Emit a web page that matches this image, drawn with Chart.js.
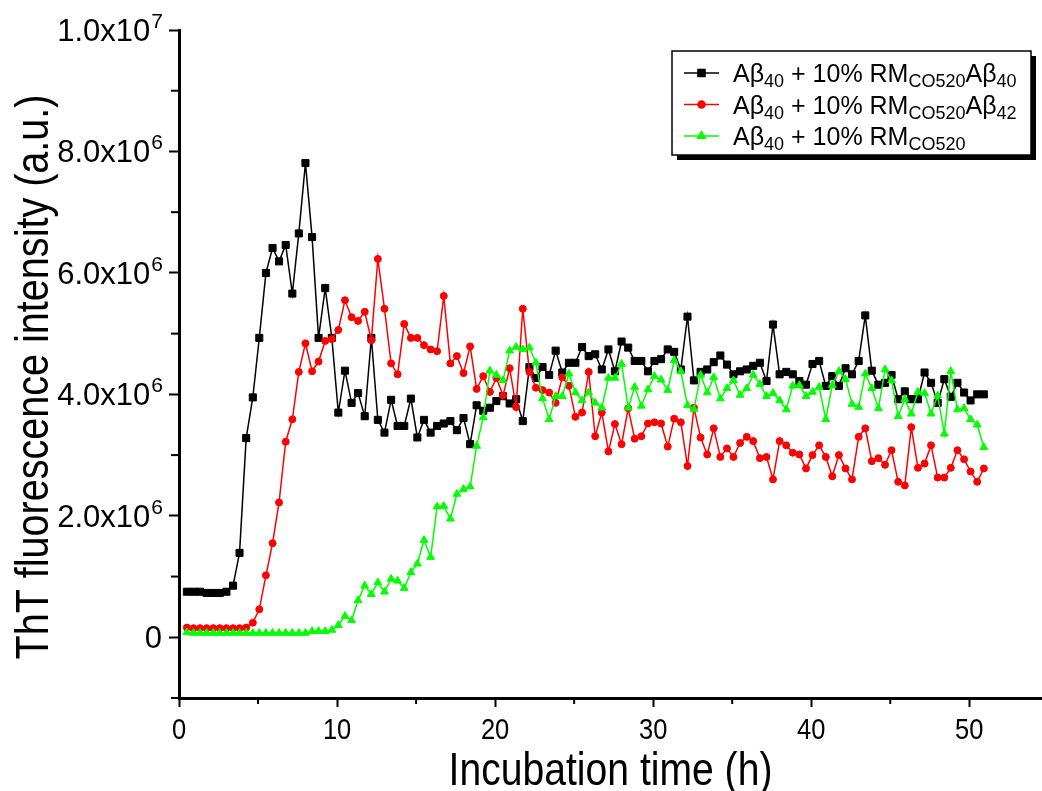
<!DOCTYPE html>
<html>
<head>
<meta charset="utf-8">
<script src="https://cdn.jsdelivr.net/npm/chart.js@4.4.0/dist/chart.umd.min.js"></script>
<style>
    html, body { margin: 0; padding: 0; background: #fff; overflow: hidden; }
</style>
</head>
<body>
<canvas id="myChart" width="1042" height="791"></canvas>
<script>
// incubation time (h), one reading every 25 min
const times = [
    0.50, 0.92, 1.33, 1.75, 2.17, 2.58, 3.00, 3.42, 3.83, 4.25,
    4.67, 5.08, 5.50, 5.92, 6.33, 6.75, 7.17, 7.58, 8.00, 8.42,
    8.83, 9.25, 9.67, 10.08, 10.50, 10.92, 11.33, 11.75, 12.17, 12.58,
    13.00, 13.42, 13.83, 14.25, 14.67, 15.08, 15.50, 15.92, 16.33, 16.75,
    17.17, 17.58, 18.00, 18.42, 18.83, 19.25, 19.67, 20.08, 20.50, 20.92,
    21.33, 21.75, 22.17, 22.58, 23.00, 23.42, 23.83, 24.25, 24.67, 25.08,
    25.50, 25.92, 26.33, 26.75, 27.17, 27.58, 28.00, 28.42, 28.83, 29.25,
    29.67, 30.08, 30.50, 30.92, 31.33, 31.75, 32.17, 32.58, 33.00, 33.42,
    33.83, 34.25, 34.67, 35.08, 35.50, 35.92, 36.33, 36.75, 37.17, 37.58,
    38.00, 38.42, 38.83, 39.25, 39.67, 40.08, 40.50, 40.92, 41.33, 41.75,
    42.17, 42.58, 43.00, 43.42, 43.83, 44.25, 44.67, 45.08, 45.50, 45.92,
    46.33, 46.75, 47.17, 47.58, 48.00, 48.42, 48.83, 49.25, 49.67, 50.08,
    50.50, 50.92
]

// ThT fluorescence, in units of 10^6 a.u.
const blackVals = [
    0.75, 0.75, 0.75, 0.73, 0.73, 0.73, 0.75, 0.85, 1.39, 3.28,
    3.95, 4.93, 6.00, 6.41, 6.19, 6.46, 5.66, 6.65, 7.81, 6.59,
    4.93, 5.75, 4.93, 3.70, 4.39, 3.86, 4.02, 3.64, 4.93, 3.58,
    3.37, 3.91, 3.48, 3.48, 3.93, 3.29, 3.58, 3.37, 3.48, 3.52,
    3.56, 3.41, 3.61, 3.18, 3.82, 3.73, 3.78, 3.89, 3.97, 3.85,
    3.92, 3.56, 4.45, 4.27, 4.45, 4.32, 4.72, 4.36, 4.52, 4.52,
    4.78, 4.63, 4.66, 4.41, 4.74, 4.38, 4.87, 4.77, 4.55, 4.55,
    4.38, 4.55, 4.58, 4.74, 4.70, 4.41, 5.28, 4.23, 4.37, 4.41,
    4.53, 4.64, 4.49, 4.33, 4.38, 4.41, 4.47, 4.52, 4.22, 5.15,
    4.33, 4.37, 4.33, 4.22, 4.16, 4.50, 4.55, 4.14, 4.30, 4.14,
    4.43, 4.33, 4.55, 5.30, 4.39, 4.16, 4.19, 4.32, 3.92, 4.05,
    3.92, 3.92, 4.36, 4.19, 3.86, 4.25, 3.96, 4.19, 4.03, 3.90,
    4.00, 4.00
]

const redVals = [
    0.16, 0.15, 0.15, 0.15, 0.15, 0.15, 0.15, 0.15, 0.15, 0.16,
    0.24, 0.46, 1.02, 1.55, 2.22, 3.22, 3.59, 4.37, 4.84, 4.38,
    4.54, 4.88, 4.91, 5.06, 5.55, 5.27, 5.21, 5.36, 4.89, 6.23,
    5.41, 4.51, 4.33, 5.16, 4.93, 4.93, 4.81, 4.74, 4.71, 5.62,
    4.51, 4.63, 4.35, 4.79, 4.09, 4.30, 4.04, 4.27, 3.98, 4.43,
    3.79, 5.41, 4.37, 4.11, 4.07, 4.03, 3.86, 4.28, 4.14, 3.63,
    3.70, 4.37, 3.31, 3.70, 3.06, 3.51, 3.18, 3.77, 3.27, 3.31,
    3.52, 3.54, 3.52, 3.14, 3.60, 3.54, 2.82, 3.78, 3.29, 3.01,
    3.44, 2.97, 3.11, 2.97, 3.20, 3.30, 3.23, 2.95, 2.97, 2.60,
    3.23, 3.16, 3.04, 3.01, 2.78, 3.00, 3.16, 2.97, 2.65, 3.00,
    2.78, 2.60, 3.30, 3.44, 2.90, 2.95, 2.84, 3.08, 2.56, 2.50,
    3.46, 2.79, 2.86, 3.16, 2.63, 2.63, 2.79, 3.08, 2.93, 2.73,
    2.56, 2.78
]

const greenVals = [
    0.08, 0.07, 0.07, 0.07, 0.07, 0.07, 0.07, 0.07, 0.07, 0.07,
    0.07, 0.07, 0.07, 0.07, 0.07, 0.07, 0.07, 0.07, 0.07, 0.10,
    0.10, 0.10, 0.12, 0.20, 0.35, 0.28, 0.61, 0.85, 0.71, 0.90,
    0.75, 0.96, 0.93, 0.81, 1.07, 1.21, 1.60, 1.32, 2.15, 2.16,
    1.95, 2.36, 2.44, 2.48, 3.15, 3.62, 4.39, 4.32, 4.23, 4.72,
    4.78, 4.74, 4.77, 4.52, 3.93, 3.59, 3.97, 3.97, 4.34, 4.03,
    3.90, 4.03, 3.86, 3.78, 4.27, 4.27, 4.50, 3.78, 4.12, 3.81,
    4.08, 4.30, 4.24, 4.07, 4.56, 4.38, 3.82, 3.75, 4.32, 4.03,
    4.28, 3.93, 4.10, 4.23, 3.99, 4.10, 4.32, 4.17, 3.97, 4.02,
    3.90, 3.75, 4.14, 4.15, 3.97, 4.04, 4.12, 3.59, 4.15, 4.38,
    4.25, 3.84, 3.79, 4.34, 4.10, 3.77, 4.41, 4.23, 3.64, 3.92,
    3.68, 4.04, 4.02, 3.68, 3.98, 3.35, 4.38, 3.75, 3.77, 3.59,
    3.50, 3.13
]

// y tick labels: [mantissa x 10, exponent]
const yTickValues = [0, 2, 4, 6, 8, 10]
const yTickText = [['0', ''], ['2.0x10', '6'], ['4.0x10', '6'], ['6.0x10', '6'], ['8.0x10', '6'], ['1.0x10', '7']]
const xMinorTicks = [5, 15, 25, 35, 45]
const yMinorTicks = [-1, 1, 3, 5, 7, 9]

const xTitle = 'Incubation time (h)'
const yTitle = 'ThT fluorescence intensity (a.u.)'

// legend text, [text, isSubscript]
const seriesNames = [
    [['Aβ', 0], ['40', 1], [' + 10% RM', 0], ['CO520', 1], ['Aβ', 0], ['40', 1]],
    [['Aβ', 0], ['40', 1], [' + 10% RM', 0], ['CO520', 1], ['Aβ', 0], ['42', 1]],
    [['Aβ', 0], ['40', 1], [' + 10% RM', 0], ['CO520', 1]]
]

const ARIAL = "'Liberation Sans', Arial, sans-serif"

const toPoints = (vals) => vals.map((v, i) => ({ x: times[i], y: v }))

const minorTicks = {
    id: 'minorTicks',
    afterDraw(chart) {
        const { ctx, scales: { x, y } } = chart
        ctx.save()
        ctx.strokeStyle = '#000'
        ctx.lineWidth = 2
        xMinorTicks.forEach(v => {
            const px = x.getPixelForValue(v)
            ctx.beginPath()
            ctx.moveTo(px, x.top)
            ctx.lineTo(px, x.top + 6)
            ctx.stroke()
        })
        yMinorTicks.forEach(v => {
            const py = y.getPixelForValue(v)
            ctx.beginPath()
            ctx.moveTo(y.right, py)
            ctx.lineTo(y.right - 8, py)
            ctx.stroke()
        })
        ctx.restore()
    }
}

// tick labels and titles in a narrow face (Arial squeezed), exponents raised
const axisText = {
    id: 'axisText',
    afterDraw(chart) {
        const { ctx, scales: { x, y } } = chart
        ctx.save()
        ctx.fillStyle = '#000'
        ctx.textBaseline = 'alphabetic'

        ctx.font = `30px ${ARIAL}`
        ctx.textAlign = 'center'
        x.ticks.forEach(t => {
            const px = x.getPixelForValue(t.value)
            ctx.save()
            ctx.translate(px, 739)
            ctx.scale(0.85, 1)
            ctx.fillText(String(t.value), 0, 0)
            ctx.restore()
        })

        ctx.textAlign = 'left'
        y.ticks.forEach(t => {
            const k = yTickValues.indexOf(t.value)
            if (k < 0) return
            const [base, sup] = yTickText[k]
            const py = y.getPixelForValue(t.value)
            ctx.font = `31px ${ARIAL}`
            const wb = ctx.measureText(base).width
            ctx.font = `21px ${ARIAL}`
            const ws = sup ? ctx.measureText(sup).width : 0
            const start = 162 - wb - ws
            ctx.font = `31px ${ARIAL}`
            ctx.fillText(base, start, py + 11)
            if (sup) {
                ctx.font = `21px ${ARIAL}`
                ctx.fillText(sup, start + wb + 1, py - 2)
            }
        })

        ctx.font = `46px ${ARIAL}`
        ctx.textAlign = 'center'
        ctx.save()
        ctx.translate((x.left + x.right) / 2, 785)
        ctx.scale(0.85, 1)
        ctx.fillText(xTitle, 0, 0)
        ctx.restore()

        ctx.save()
        ctx.translate(48, 377)
        ctx.rotate(-Math.PI / 2)
        ctx.scale(0.86, 1)
        ctx.fillText(yTitle, 0, 0)
        ctx.restore()

        ctx.restore()
    }
}

const boxLegend = {
    id: 'boxLegend',
    afterDraw(chart) {
        const ctx = chart.ctx
        const box = { left: 672, top: 51, right: 1031, bottom: 155 }
        ctx.save()
        // drop shadow
        ctx.fillStyle = '#000'
        ctx.fillRect(box.left + 5, box.top + 5, box.right - box.left, box.bottom - box.top)
        ctx.fillStyle = '#fff'
        ctx.fillRect(box.left, box.top, box.right - box.left, box.bottom - box.top)
        ctx.strokeStyle = '#000'
        ctx.lineWidth = 1.5
        ctx.strokeRect(box.left, box.top, box.right - box.left, box.bottom - box.top)

        const rowsY = [73, 104.5, 136]
        chart.data.datasets.forEach((ds, i) => {
            const cy = rowsY[i]
            ctx.strokeStyle = ds.borderColor
            ctx.lineWidth = 1.5
            ctx.beginPath()
            ctx.moveTo(684, cy)
            ctx.lineTo(719, cy)
            ctx.stroke()
            ctx.fillStyle = ds.backgroundColor
            Chart.helpers.drawPoint(ctx, {
                pointStyle: ds.pointStyle,
                radius: ds.pointRadius,
                borderWidth: 1,
                rotation: 0
            }, 701.5, cy)
            ctx.fill()

            let tx = 733
            ctx.fillStyle = '#000'
            ctx.textAlign = 'left'
            ctx.textBaseline = 'alphabetic'
            seriesNames[i].forEach(([txt, sub]) => {
                ctx.font = sub ? `18px ${ARIAL}` : `25px ${ARIAL}`
                ctx.fillText(txt, tx, cy + 9 + (sub ? 5 : 0))
                tx += ctx.measureText(txt).width
            })
        })
        ctx.restore()
    }
}

const ctx = document.getElementById('myChart').getContext('2d')

const myChart = new Chart(ctx, {
    type: 'line',
    data: {
        datasets: [
            {
                label: 'Aβ40 + 10% RMCO520Aβ40',
                data: toPoints(blackVals),
                borderColor: '#000000',
                backgroundColor: '#000000',
                borderWidth: 1.5,
                pointStyle: 'rect',
                pointRadius: 5,
                pointBorderWidth: 1,
                order: 3
            },
            {
                label: 'Aβ40 + 10% RMCO520Aβ42',
                data: toPoints(redVals),
                borderColor: '#ff0000',
                backgroundColor: '#ff0000',
                borderWidth: 1.5,
                pointStyle: 'circle',
                pointRadius: 3.5,
                pointBorderWidth: 1,
                order: 2
            },
            {
                label: 'Aβ40 + 10% RMCO520',
                data: toPoints(greenVals),
                borderColor: '#00ff00',
                backgroundColor: '#00ff00',
                borderWidth: 1.5,
                pointStyle: 'triangle',
                pointRadius: 4.5,
                pointBorderWidth: 1,
                order: 1
            }
        ]
    },
    options: {
        responsive: false,
        animation: false,
        layout: {
            autoPadding: false,
            padding: { top: 30, right: 0, left: 0, bottom: 0 }
        },
        plugins: {
            legend: { display: false },
            tooltip: { enabled: false }
        },
        scales: {
            x: {
                type: 'linear',
                min: 0,
                max: 54.6,
                afterFit: (scale) => { scale.height = 93 },
                border: { display: true, color: '#000', width: 3 },
                grid: {
                    drawOnChartArea: false,
                    drawTicks: true,
                    tickLength: 9,
                    tickWidth: 2,
                    tickColor: '#000'
                },
                ticks: {
                    display: false,
                    stepSize: 10,
                    includeBounds: false,
                    autoSkip: false
                }
            },
            y: {
                min: -1,
                max: 10,
                afterFit: (scale) => { scale.width = 179 },
                border: { display: true, color: '#000', width: 3 },
                grid: {
                    drawOnChartArea: false,
                    drawTicks: true,
                    tickLength: 10,
                    tickWidth: 2,
                    tickColor: '#000'
                },
                ticks: {
                    display: false,
                    stepSize: 2,
                    includeBounds: false,
                    autoSkip: false
                }
            }
        }
    },
    plugins: [minorTicks, axisText, boxLegend]
})
</script>
</body>
</html>
